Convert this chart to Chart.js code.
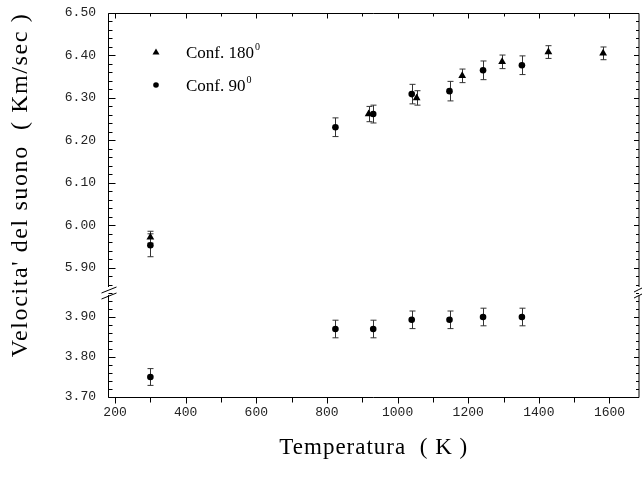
<!DOCTYPE html>
<html>
<head>
<meta charset="utf-8">
<script src="https://cdn.jsdelivr.net/npm/chart.js@4.4.1/dist/chart.umd.min.js"></script>
<style>
  html, body { margin: 0; padding: 0; background: #fff; }
  #wrap { width: 644px; height: 485px; }
</style>
</head>
<body>
<div id="wrap"><canvas id="chart"></canvas></div>
<script>
  /* DATA */
  var xTicks = [200, 400, 600, 800, 1000, 1200, 1400, 1600];
  var upperTicks = [5.90, 6.00, 6.10, 6.20, 6.30, 6.40, 6.50];
  var lowerTicks = [3.70, 3.80, 3.90];

  // Conf. 180 (triangoli)
  var temp180 = [300, 918, 1054, 1183, 1296, 1427, 1582];
  var vel180 = [5.972, 6.262, 6.300, 6.352, 6.385, 6.408, 6.405];
  var err180 = [0.014, 0.018, 0.017, 0.016, 0.016, 0.015, 0.015];

  // Conf. 90 (cerchi), ramo alto
  var temp90 = [300, 824, 931, 1040, 1147, 1242, 1352];
  var vel90 = [5.953, 6.231, 6.262, 6.309, 6.316, 6.365, 6.377];
  var err90 = [0.027, 0.022, 0.021, 0.023, 0.023, 0.022, 0.022];

  // Conf. 90, ramo basso
  var vel90low = [3.750, 3.870, 3.870, 3.893, 3.893, 3.900, 3.900];
  var err90low = [0.021, 0.022, 0.022, 0.022, 0.022, 0.022, 0.022];

  var legendLabels = ['Conf. 180', 'Conf. 90'];

  function toPoints(xs, ys, es) {
    return xs.map(function (x, i) { return { x: x, y: ys[i], e: es[i] }; });
  }

  var tickFont = { family: 'Liberation Mono', size: 13 };
  var serif = 'Liberation Serif';

  function noPad(s) {
    s.paddingTop = 0; s.paddingBottom = 0;
    s.paddingLeft = 0; s.paddingRight = 0;
  }

  // barre d'errore
  var errorBars = {
    id: 'errorBars',
    beforeDatasetsDraw: function (chart) {
      var ctx = chart.ctx;
      var xs = chart.scales.x;
      ctx.save();
      ctx.strokeStyle = '#333';
      ctx.lineWidth = 1;
      chart.data.datasets.forEach(function (ds) {
        var ys = chart.scales[ds.yAxisID];
        ds.data.forEach(function (p) {
          var px = Math.round(xs.getPixelForValue(p.x)) + 0.5;
          var top = ys.getPixelForValue(p.y + p.e);
          var bot = ys.getPixelForValue(p.y - p.e);
          ctx.beginPath();
          ctx.moveTo(px, top); ctx.lineTo(px, bot);
          ctx.moveTo(px - 3, top); ctx.lineTo(px + 3, top);
          ctx.moveTo(px - 3, bot); ctx.lineTo(px + 3, bot);
          ctx.stroke();
        });
      });
      ctx.restore();
    }
  };

  // cornice, tacche, interruzione dell'asse, titoli e legenda
  var frame = {
    id: 'frame',
    afterDraw: function (chart) {
      var ctx = chart.ctx;
      var a = chart.chartArea;
      var xs = chart.scales.x, yUp = chart.scales.yUp, yLow = chart.scales.yLow;
      var L = a.left + 0.5, R = a.right - 0.5, T = a.top + 0.5, B = a.bottom + 0.5;
      var brk = yUp.bottom;
      ctx.save();
      ctx.strokeStyle = '#000';
      ctx.lineWidth = 1;
      ctx.beginPath();
      ctx.moveTo(L, T); ctx.lineTo(R, T);
      ctx.moveTo(L, B); ctx.lineTo(R, B);
      ctx.moveTo(L, T); ctx.lineTo(L, brk - 2);
      ctx.moveTo(L, brk + 6); ctx.lineTo(L, B);
      ctx.moveTo(R, T); ctx.lineTo(R, brk - 2);
      ctx.moveTo(R, brk + 6); ctx.lineTo(R, B);

      // tacche x
      for (var v = 200; v <= 1700; v += 100) {
        if (v > xs.max) break;
        var px = Math.round(xs.getPixelForValue(v)) + 0.5;
        var major = xTicks.indexOf(v) >= 0;
        ctx.moveTo(px, B); ctx.lineTo(px, B + (major ? 6 : 5));
        ctx.moveTo(px, T); ctx.lineTo(px, T + (major ? 5 : 3));
      }
      // tacche y
      [yUp, yLow].forEach(function (s) {
        var start = Math.ceil(s.min * 50 - 1e-6);
        for (var k = start; k / 50 <= s.max + 1e-6; k++) {
          var val = k / 50;
          var py = Math.round(s.getPixelForValue(val)) + 0.5;
          var major = k % 5 === 0;
          ctx.moveTo(L, py); ctx.lineTo(L + (major ? 7 : 4), py);
          ctx.moveTo(R, py); ctx.lineTo(R - (major ? 5 : 3), py);
        }
      });
      ctx.stroke();

      // interruzione
      ctx.beginPath();
      ctx.moveTo(L - 7, brk + 4); ctx.lineTo(L + 8, brk - 2);
      ctx.moveTo(L - 7, brk + 10); ctx.lineTo(L + 8, brk + 4);
      ctx.moveTo(R - 5, brk + 3); ctx.lineTo(R + 3, brk - 1);
      ctx.moveTo(R - 5, brk + 9); ctx.lineTo(R + 3, brk + 5);
      ctx.stroke();

      // titoli
      ctx.fillStyle = '#000';
      ctx.textAlign = 'center';
      ctx.textBaseline = 'middle';
      ctx.font = '23px "' + serif + '"';
      ctx.letterSpacing = '1px';
      ctx.fillText('Temperatura  ( K )', (a.left + a.right) / 2, 448);
      ctx.save();
      ctx.translate(21, 185);
      ctx.rotate(-Math.PI / 2);
      ctx.font = '24px "' + serif + '"';
      ctx.letterSpacing = '1.6px';
      ctx.fillText("Velocita' del suono  ( Km/sec )", 0, 0);
      ctx.restore();
      ctx.letterSpacing = '0px';

      // legenda
      ctx.textAlign = 'left';
      ctx.textBaseline = 'alphabetic';
      legendLabels.forEach(function (lab, i) {
        var ly = 52 + i * 33;
        var ds = chart.data.datasets[i];
        ctx.beginPath();
        if (ds.pointStyle === 'triangle') {
          ctx.moveTo(156, ly - 3.5); ctx.lineTo(159.5, ly + 2.5); ctx.lineTo(152.5, ly + 2.5);
          ctx.closePath();
        } else {
          ctx.arc(156, ly, 2.8, 0, Math.PI * 2);
        }
        ctx.fill();
        ctx.font = '17px "' + serif + '"';
        ctx.fillText(lab, 186, ly + 6);
        var w = ctx.measureText(lab).width;
        ctx.font = '10px "' + serif + '"';
        ctx.fillText('0', 186 + w + 1, ly - 2);
      });
      ctx.restore();
    }
  };

  var ctx = document.getElementById('chart').getContext('2d');
  var chart = new Chart(ctx, {
    type: 'scatter',
    data: {
      datasets: [
        {
          label: legendLabels[0],
          data: toPoints(temp180, vel180, err180),
          yAxisID: 'yUp',
          pointStyle: 'triangle',
          pointRadius: 4.5,
          backgroundColor: '#000',
          borderColor: '#000',
          borderWidth: 0
        },
        {
          label: legendLabels[1],
          data: toPoints(temp90, vel90, err90),
          yAxisID: 'yUp',
          pointStyle: 'circle',
          pointRadius: 3.3,
          backgroundColor: '#000',
          borderColor: '#000',
          borderWidth: 0
        },
        {
          label: legendLabels[1],
          data: toPoints(temp90, vel90low, err90low),
          yAxisID: 'yLow',
          pointStyle: 'circle',
          pointRadius: 3.3,
          backgroundColor: '#000',
          borderColor: '#000',
          borderWidth: 0
        }
      ]
    },
    options: {
      responsive: true,
      maintainAspectRatio: false,
      animation: false,
      devicePixelRatio: 1,
      layout: { padding: { top: 13, right: 0, left: 0, bottom: 0 } },
      plugins: { legend: { display: false }, tooltip: { enabled: false } },
      scales: {
        x: {
          type: 'linear',
          min: 180,
          max: 1685,
          grid: { display: false, drawTicks: false },
          border: { display: false },
          afterBuildTicks: function (s) { s.ticks = xTicks.map(function (v) { return { value: v }; }); },
          afterFit: function (s) { s.height = 88; noPad(s); },
          ticks: {
            font: tickFont, color: '#222', padding: 8,
            maxRotation: 0, autoSkip: false,
            callback: function (v) { return String(v); }
          }
        },
        yLow: {
          type: 'linear',
          position: 'left',
          stack: 'v',
          stackWeight: 108,
          min: 3.70,
          max: 3.97,
          grid: { display: false, drawTicks: false },
          border: { display: false },
          afterBuildTicks: function (s) { s.ticks = lowerTicks.map(function (v) { return { value: v }; }); },
          afterFit: function (s) { s.width = 108; noPad(s); },
          ticks: {
            font: tickFont, color: '#222', padding: 12, autoSkip: false,
            callback: function (v) { return Number(v).toFixed(2); }
          }
        },
        yUp: {
          type: 'linear',
          position: 'left',
          stack: 'v',
          stackWeight: 276,
          min: 5.85,
          max: 6.50,
          grid: { display: false, drawTicks: false },
          border: { display: false },
          afterBuildTicks: function (s) { s.ticks = upperTicks.map(function (v) { return { value: v }; }); },
          afterFit: function (s) { s.width = 108; noPad(s); },
          ticks: {
            font: tickFont, color: '#222', padding: 12, autoSkip: false,
            callback: function (v) { return Number(v).toFixed(2); }
          }
        }
      }
    },
    plugins: [errorBars, frame]
  });
</script>
</body>
</html>
